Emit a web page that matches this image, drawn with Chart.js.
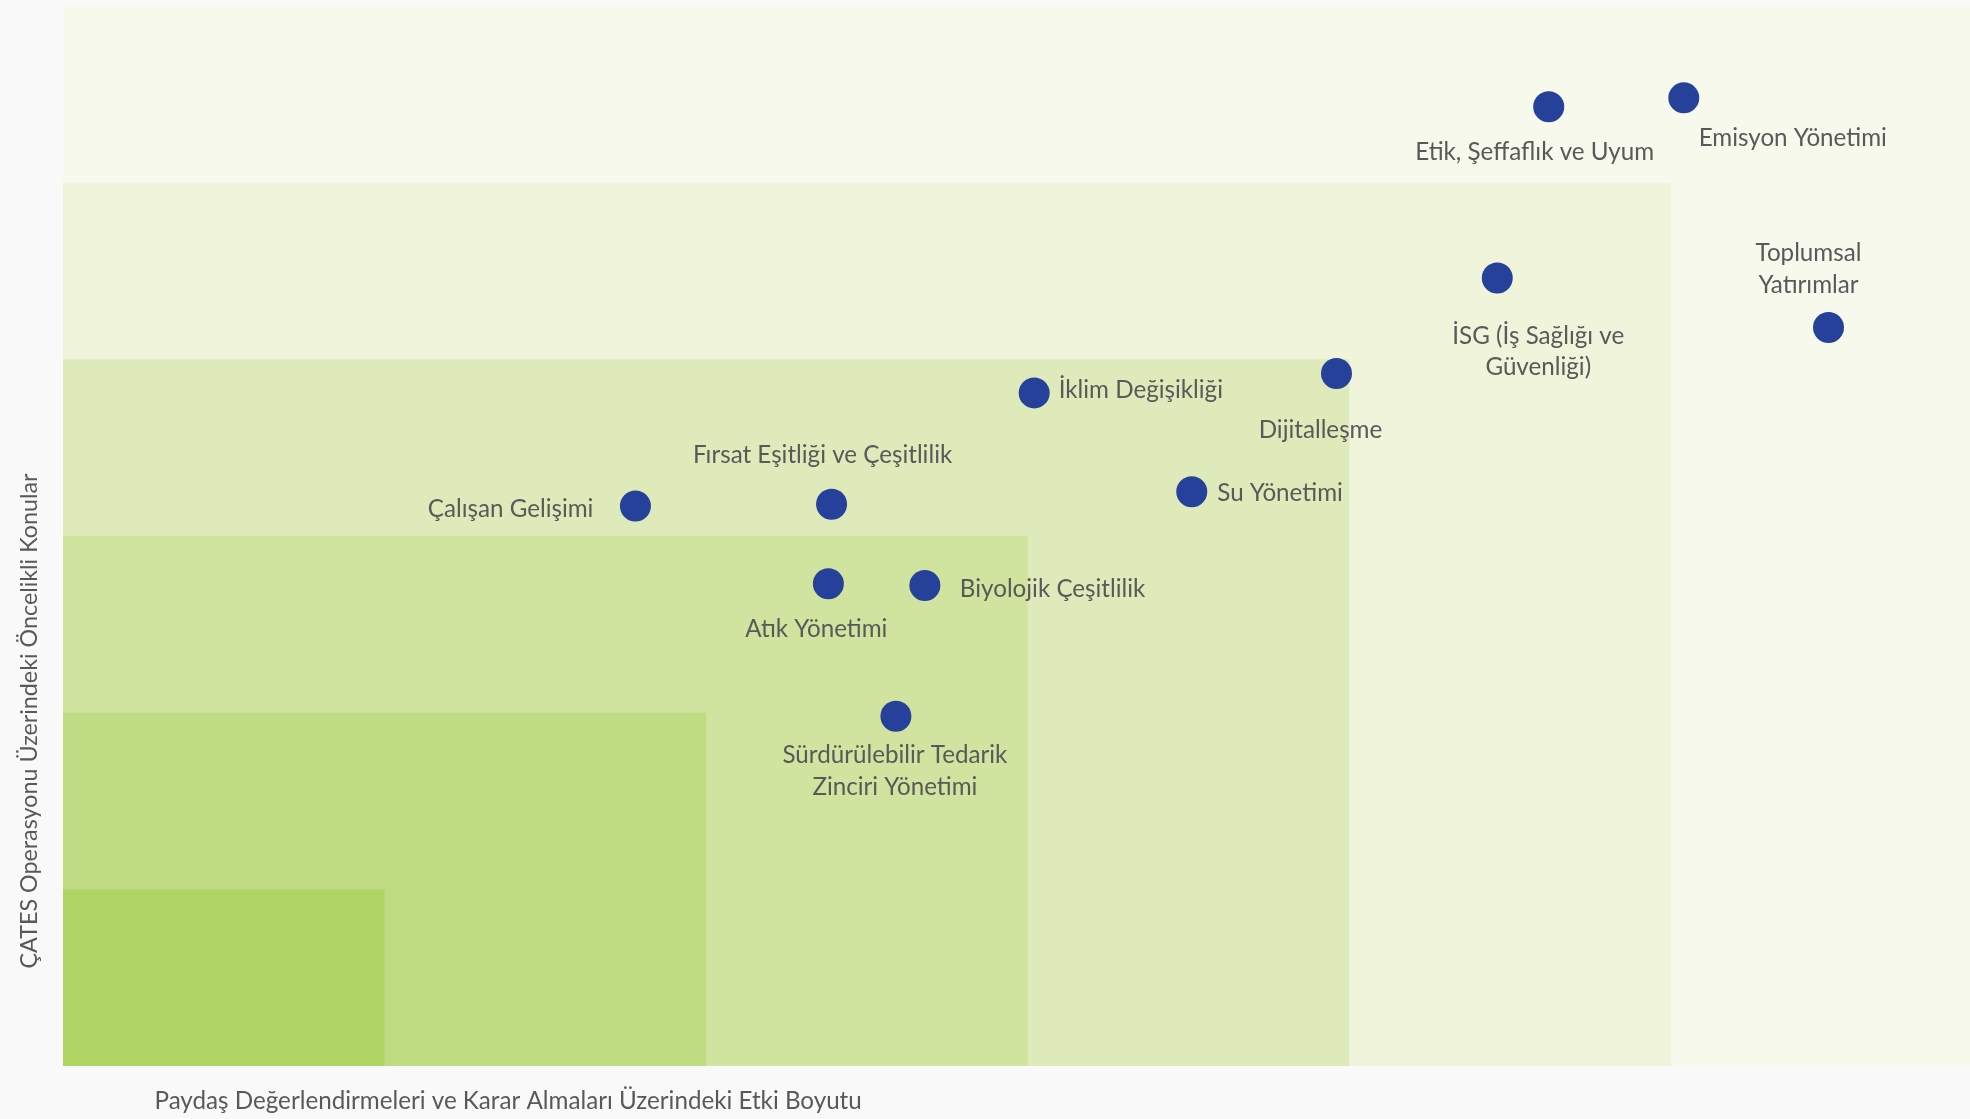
<!DOCTYPE html>
<html lang="tr">
<head>
<meta charset="utf-8">
<title>Öncelikli Konular Matrisi</title>
<script src="https://cdn.jsdelivr.net/npm/chart.js@4/dist/chart.umd.min.js"></script>
<style>
  html, body { margin: 0; padding: 0; background: #f9f9f9; }
  #wrap { width: 1970px; height: 1119px; position: relative; }
  canvas { display: block; }
</style>
</head>
<body>
<div id="wrap"><canvas id="c" width="1970" height="1119"></canvas></div>
<script>
// ---------- DATA ----------
const topics = [
  ['Etik, Şeffaflık ve Uyum'],
  ['Emisyon Yönetimi'],
  ['İSG (İş Sağlığı ve', 'Güvenliği)'],
  ['Toplumsal', 'Yatırımlar'],
  ['Dijitalleşme'],
  ['İklim Değişikliği'],
  ['Su Yönetimi'],
  ['Çalışan Gelişimi'],
  ['Fırsat Eşitliği ve Çeşitlilik'],
  ['Atık Yönetimi'],
  ['Biyolojik Çeşitlilik'],
  ['Sürdürülebilir Tedarik', 'Zinciri Yönetimi']
];
const stakeholderImpact = [4.62, 5.04, 4.46, 5.49, 3.96, 3.02, 3.51, 1.78, 2.39, 2.38, 2.68, 2.59];
const operationPriority = [5.43, 5.48, 4.46, 4.18, 3.92, 3.81, 3.25, 3.17, 3.18, 2.73, 2.72, 1.98];
const zoneLevels = [6, 5, 4, 3, 2, 1];
const xAxisTitle = 'Paydaş Değerlendirmeleri ve Karar Almaları Üzerindeki Etki Boyutu';
const yAxisTitle = 'ÇATES Operasyonu Üzerindeki Öncelikli Konular';

// ---------- STYLE / PLACEMENT ----------
const zoneColors = ['#f7f9ec', '#eff4da', '#dfeabb', '#d0e39f', '#c0dc83', '#b0d464'];
const FONT = '24.2px Lato';
const Y_TITLE_FONT = '23.3px Lato';
const TEXT_COLOR = '#595959';
const LINE_H = 31.5;
const labelPlacement = [
  { align: 'center', dx: -14, dy: 45 },
  { align: 'center', dx: 109, dy: 40 },
  { align: 'center', dx: 41, dy: 58 },
  { align: 'center', dx: -20, dy: -74 },
  { align: 'center', dx: -16, dy: 57 },
  { align: 'left', dx: 24.5, dy: -3 },
  { align: 'left', dx: 25.5, dy: 1 },
  { align: 'right', dx: -42, dy: 3.5 },
  { align: 'center', dx: -9, dy: -49 },
  { align: 'center', dx: -12, dy: 45 },
  { align: 'left', dx: 35, dy: 4 },
  { align: 'center', dx: -1, dy: 39 }
];

const points = stakeholderImpact.map((x, i) => ({ x, y: operationPriority[i] }));

const zonesPlugin = {
  id: 'zones',
  beforeDatasetsDraw(chart) {
    const { ctx, chartArea, scales } = chart;
    ctx.save();
    ctx.beginPath();
    ctx.rect(chartArea.left, chartArea.top, chartArea.right - chartArea.left, chartArea.bottom - chartArea.top);
    ctx.clip();
    zoneLevels.forEach((lvl, i) => {
      const x0 = scales.x.getPixelForValue(0);
      const y0 = scales.y.getPixelForValue(0);
      const x1 = scales.x.getPixelForValue(lvl);
      const y1 = scales.y.getPixelForValue(lvl);
      ctx.fillStyle = zoneColors[i];
      ctx.fillRect(x0, y1, x1 - x0, y0 - y1);
    });
    ctx.restore();
  }
};

const labelsPlugin = {
  id: 'pointLabels',
  afterDatasetsDraw(chart) {
    const { ctx } = chart;
    const meta = chart.getDatasetMeta(0);
    ctx.save();
    ctx.font = FONT;
    ctx.fillStyle = TEXT_COLOR;
    ctx.textBaseline = 'middle';
    meta.data.forEach((el, i) => {
      const p = labelPlacement[i];
      ctx.textAlign = p.align;
      topics[i].forEach((line, j) => {
        ctx.fillText(line, el.x + p.dx, el.y + p.dy + j * LINE_H);
      });
    });
    ctx.restore();
  }
};

const titlesPlugin = {
  id: 'axisTitles',
  afterDraw(chart) {
    const { ctx, chartArea } = chart;
    ctx.save();
    ctx.font = FONT;
    ctx.fillStyle = TEXT_COLOR;
    ctx.textBaseline = 'middle';
    ctx.textAlign = 'left';
    ctx.fillText(xAxisTitle, chartArea.left + 91.5, chartArea.bottom + 35);
    ctx.font = Y_TITLE_FONT;
    ctx.translate(chartArea.left - 34, chartArea.top + 715);
    ctx.rotate(-Math.PI / 2);
    ctx.textAlign = 'center';
    ctx.fillText(yAxisTitle, 0, 0);
    ctx.restore();
  }
};

new Chart(document.getElementById('c'), {
  type: 'scatter',
  data: {
    datasets: [{
      data: points,
      backgroundColor: '#26419a',
      borderWidth: 0,
      pointRadius: 15.5,
      pointHoverRadius: 15.5
    }]
  },
  options: {
    responsive: false,
    animation: false,
    events: [],
    layout: { autoPadding: false, padding: { left: 63, top: 6, right: 0, bottom: 53 } },
    plugins: { legend: { display: false }, tooltip: { enabled: false } },
    scales: {
      x: { type: 'linear', min: 0, max: 5.93, display: false },
      y: { type: 'linear', min: 0, max: 6, display: false }
    }
  },
  plugins: [zonesPlugin, labelsPlugin, titlesPlugin]
});
</script>
</body>
</html>
